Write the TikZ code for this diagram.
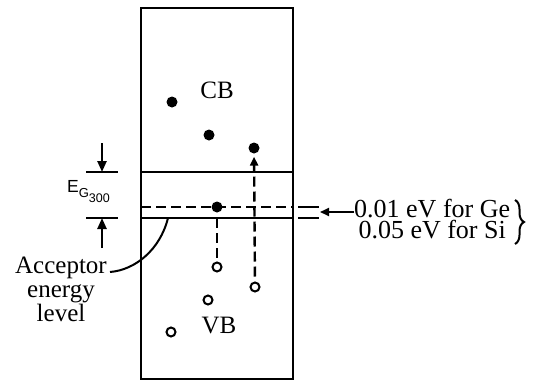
\documentclass[tikz,border=0pt]{standalone}
\usepackage{fontspec}
\setmainfont{Liberation Serif}
\newfontfamily\sansf{Liberation Sans}
\usetikzlibrary{arrows.meta,decorations.pathreplacing}
\begin{document}
\begin{tikzpicture}[x=1pt,y=-1pt,
  thickline/.style={line width=2.4pt},
  dashline/.style={line width=2.4pt, dash pattern=on 10pt off 5pt},
  elec/.style={circle, fill=black, inner sep=0pt, minimum size=11pt},
  hole/.style={circle, draw=black, line width=2pt, fill=white, inner sep=0pt, minimum size=9pt},
  lbl/.style={font=\fontsize{25}{24}\selectfont, inner sep=0pt},
  rlbl/.style={font=\fontsize{26}{21}\selectfont, inner sep=0pt, align=center},
  tip/.style={-{Triangle[length=11pt,width=9pt]}},
  smalltip/.style={-{Triangle[length=9pt,width=8pt]}}]
\useasboundingbox (0,0) rectangle (533,383);
% crystal box
\draw[thickline] (141,8) rectangle (293,379);
% band edges
\draw[thickline] (141,172) -- (293,172);
\draw[thickline] (141,218) -- (293,218);
\draw[dashline] (141,207) -- (293,207);
\draw[thickline] (298,207) -- (319,207);
\draw[thickline] (298,218) -- (319,218);
% gap marker
\draw[thickline] (86,172) -- (118,172);
\draw[thickline] (86,218) -- (118,218);
\draw[thickline, tip] (102,143) -- (102,172);
\draw[thickline, tip] (102,248) -- (102,218);
\node[anchor=base west, inner sep=0pt] (eg) at (67,192)
  {\sansf\fontsize{17.5}{17.5}\selectfont E\raisebox{-5pt}{\fontsize{13}{13}\selectfont G\raisebox{-5pt}{\fontsize{12.5}{12.5}\selectfont 300}}};
% carriers
\node[elec] (e1) at (172,102) {};
\node[elec] (e2) at (209,135) {};
\node[elec] (e3) at (254,148) {};
\node[elec] (ea) at (217,207) {};
\node[hole] (h1) at (217,267) {};
\node[hole] (h2) at (255,287) {};
\node[hole] (h3) at (208,300) {};
\node[hole] (h4) at (171,332) {};
\draw[dashline, shorten <=4pt] (h1) -- (ea);
\draw[dashline, smalltip, shorten <=5pt, shorten >=3pt] (h2) -- (e3);
% band labels
\node[lbl] (cb) at (217,90) {CB};
\node[lbl] (vb) at (219,325) {VB};
% acceptor label
\node[lbl, align=center, anchor=north] (acc) at (61,257) {Acceptor\\energy\\level};
\coordinate (accend) at (110,272);
\coordinate (lvl) at (168,218);
\draw[line width=2pt] (accend) .. controls (135,270) and (160,250) .. (lvl);
% right labels
\node[rlbl, anchor=north west] (vals) at (354,199) {0.01 eV for Ge\\0.05 eV for Si};
\coordinate (arrtip) at (320,212);
\draw[line width=2pt, smalltip] ([yshift=-13pt]vals.north west) -- (arrtip);
\draw[line width=2pt, decorate, decoration={brace, amplitude=9pt}] (515,200) -- (515,244);
\end{tikzpicture}
\end{document}
